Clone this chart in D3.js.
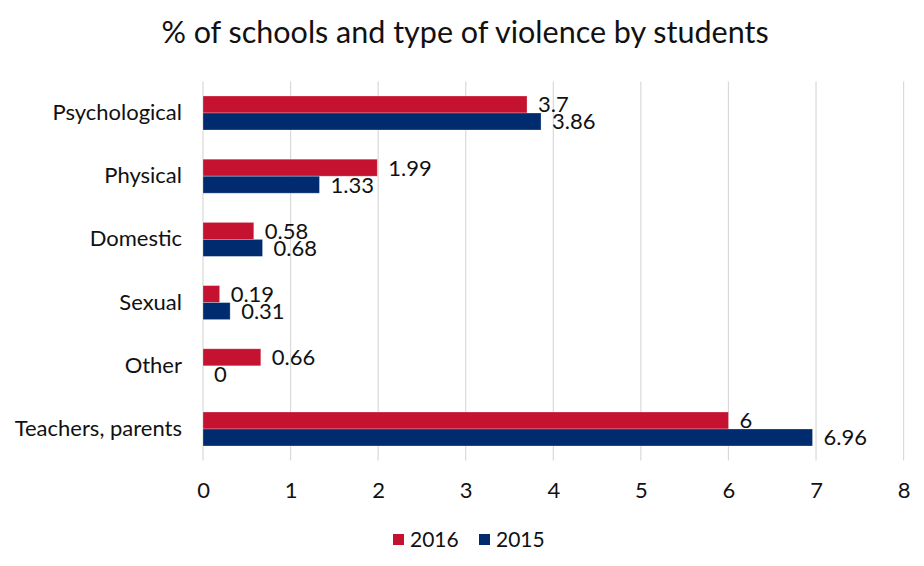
<!DOCTYPE html>
<html>
<head>
<meta charset="utf-8">
<script src="https://cdn.jsdelivr.net/npm/d3@7/dist/d3.min.js"></script>
<style>
  html, body { margin: 0; padding: 0; background: #fff; }
  svg { display: block; font-family: "Lato", "Open Sans", sans-serif; }
</style>
</head>
<body>
<svg id="chart" width="924" height="566"></svg>
<script>
// Share of schools reporting each type of violence by students
const categories = ["Psychological", "Physical", "Domestic", "Sexual", "Other", "Teachers, parents"];
const years = ["2016", "2015"];
const values2016 = [3.7, 1.99, 0.58, 0.19, 0.66, 6];
const values2015 = [3.86, 1.33, 0.68, 0.31, 0, 6.96];
const xTicks = [0, 1, 2, 3, 4, 5, 6, 7, 8];
const title = "% of schools and type of violence by students";

const colors = { "2016": "#C41230", "2015": "#002B6E" };
const seriesValues = { "2016": values2016, "2015": values2015 };

const svg = d3.select("#chart");
const margin = { left: 203, right: 924 - 903.6, top: 81.4, bottom: 566 - 460.6 };
const W = 924, H = 566;

const x = d3.scaleLinear().domain([0, 8]).range([margin.left, W - margin.right]);
const y = d3.scaleBand().domain(categories).range([margin.top, H - margin.bottom])
  .paddingInner(0.462).paddingOuter(0.231);
const ySub = d3.scaleBand().domain(years).range([0, y.bandwidth()]);

// Title
svg.append("text")
  .attr("x", 465).attr("y", 43)
  .attr("text-anchor", "middle")
  .attr("font-size", 30.5)
  .attr("fill", "#111")
  .text(title);

// Vertical gridlines
svg.append("g").selectAll("line").data(xTicks).join("line")
  .attr("x1", d => x(d)).attr("x2", d => x(d))
  .attr("y1", margin.top).attr("y2", H - margin.bottom)
  .attr("stroke", "#d9d9d9").attr("stroke-width", 1.2);

// X axis tick labels
const xAxis = d3.axisBottom(x).tickValues(xTicks).tickSize(0).tickPadding(0).tickFormat(d3.format("d"));
const gx = svg.append("g").attr("transform", `translate(0, ${H - margin.bottom + 37})`).call(xAxis);
gx.select(".domain").remove();
gx.selectAll("text").attr("font-size", 22).attr("fill", "#111").attr("font-family", "Lato, sans-serif")
  .attr("dy", 0);

// Y axis category labels
const yAxis = d3.axisLeft(y).tickSize(0).tickPadding(21);
const gy = svg.append("g").attr("transform", `translate(${margin.left}, 0)`).call(yAxis);
gy.select(".domain").remove();
gy.selectAll("text").attr("font-size", 22).attr("fill", "#111").attr("font-family", "Lato, sans-serif");

// Bars and value labels
const rows = [];
categories.forEach((c, i) => {
  years.forEach(yr => rows.push({ cat: c, year: yr, value: seriesValues[yr][i] }));
});

const g = svg.append("g");
g.selectAll("rect").data(rows).join("rect")
  .attr("x", x(0))
  .attr("y", d => y(d.cat) + ySub(d.year))
  .attr("width", d => x(d.value) - x(0))
  .attr("height", ySub.bandwidth())
  .attr("fill", d => colors[d.year])
  .attr("stroke", "rgba(255,255,255,0.35)")
  .attr("stroke-width", 0.8);

g.selectAll("text").data(rows).join("text")
  .attr("x", d => x(d.value) + 11)
  .attr("y", d => y(d.cat) + ySub(d.year) + ySub.bandwidth() / 2)
  .attr("dy", "0.36em")
  .attr("font-size", 22)
  .attr("fill", "#111")
  .text(d => d3.format("~g")(d.value));

// Legend
const legend = svg.append("g").attr("transform", "translate(393, 534)");
const legendX = { "2016": 0, "2015": 86 };
years.forEach(yr => {
  const lg = legend.append("g").attr("transform", `translate(${legendX[yr]}, 0)`);
  lg.append("rect").attr("width", 11).attr("height", 11).attr("fill", colors[yr]);
  lg.append("text").attr("x", 17).attr("y", 5.5).attr("dy", "0.36em")
    .attr("font-size", 21).attr("fill", "#111").text(yr);
});
</script>
</body>
</html>
